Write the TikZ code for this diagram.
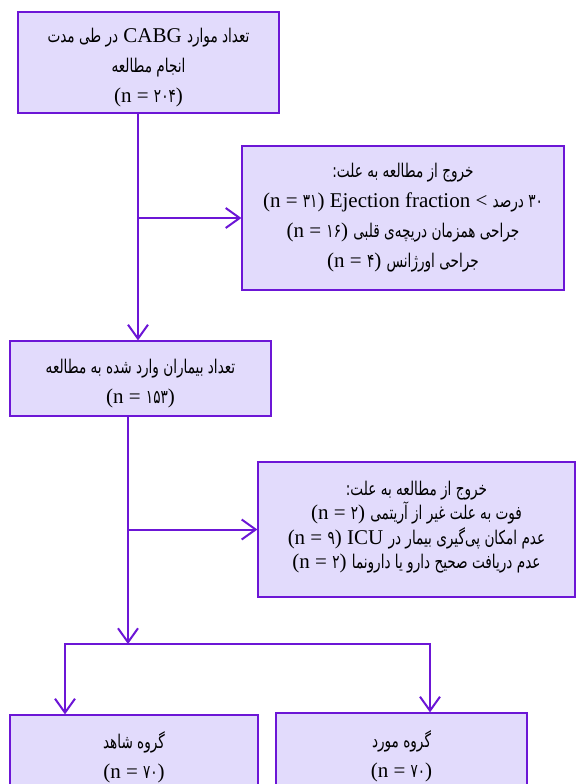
\documentclass[tikz,border=0pt]{standalone}
\usepackage{fontspec}
\setmainfont{Liberation Serif}
\newfontfamily\fafont[Script=Arabic,Scale=0.9,FakeStretch=0.72]{DejaVu Sans}
\TeXXeTstate=1
\usetikzlibrary{arrows.meta}
\definecolor{flowline}{RGB}{108,22,214}
\definecolor{flowfill}{RGB}{226,219,252}
\newcommand{\fa}[1]{{\fafont\beginR #1\endR}}
\newcommand{\ncase}[1]{(n = {\fafont #1})}
\newcommand{\lowstrut}{\rule{0pt}{24pt}}
\tikzset{%
	every box/.style={
		draw=flowline,
		fill=flowfill,
		line width=1.2pt,
		align=center,
		inner sep=0pt,
		font=\fontsize{21}{30}\selectfont
	},
	link/.style={
		draw=flowline,
		line width=2pt,
		-{Straight Barb[length=14pt,width=20pt]}
	},
}

\begin{document}
\begin{tikzpicture}[x=1pt, y=-1pt]
	\useasboundingbox (0,0) rectangle (576,784);
	
	\node [every box, minimum width=261pt, minimum height=101pt] (total) at (148.5,62.5)
	{\lowstrut\fa{در طی مدت} CABG \fa{تعداد موارد}\\ \fa{انجام مطالعه}\\ \ncase{۲۰۴}};
	
	\node [every box, minimum width=322pt, minimum height=144pt] (excl1) at (403,218)
	{\fa{خروج از مطالعه به علت:}\\
	 \ncase{۳۱} Ejection fraction < \fa{۳۰ درصد}\\
	 \ncase{۱۶} \fa{جراحی همزمان دریچه‌ی قلبی}\\
	 \ncase{۴} \fa{جراحی اورژانس}};
	
	\node [every box, minimum width=261pt, minimum height=75pt] (enrolled) at (140.5,378.5)
	{\lowstrut\fa{تعداد بیماران وارد شده به مطالعه}\\ \ncase{۱۵۳}};
	
	\node [every box, minimum width=317pt, minimum height=135pt,
	       font=\fontsize{21}{24.5}\selectfont] (excl2) at (416.5,529.5)
	{\fa{خروج از مطالعه به علت:}\\
	 \ncase{۲} \fa{فوت به علت غیر از آریتمی}\\
	 \ncase{۹} ICU \fa{عدم امکان پی‌گیری بیمار در}\\
	 \ncase{۲} \fa{عدم دریافت صحیح دارو یا دارونما}\\[-15pt]};
	
	\node [every box, minimum width=248pt, minimum height=85pt] (control) at (134,757.5)
	{\fa{گروه شاهد}\\ \ncase{۷۰}};
	
	\node [every box, minimum width=251pt, minimum height=87pt] (case) at (401.5,756.5)
	{\fa{گروه مورد}\\ \ncase{۷۰}};
	
	% spines and split
	\coordinate (spine-top) at (138,0);
	\coordinate (spine-mid) at (128,0);
	\coordinate (split) at (128,644);
	\coordinate (split-left) at (65,644);
	\coordinate (split-right) at (430,644);
	
	\draw [link] (total.south -| spine-top) -- (enrolled.north -| spine-top);
	\draw [link] (excl1.west -| spine-top) -- (excl1.west);
	
	\draw [link] (enrolled.south -| spine-mid) -- (split);
	\draw [link] (excl2.west -| spine-mid) -- (excl2.west);
	
	\draw [link] (split) -| (control.north -| split-left);
	\draw [link] (split) -| (case.north -| split-right);
	
\end{tikzpicture}
\end{document}
